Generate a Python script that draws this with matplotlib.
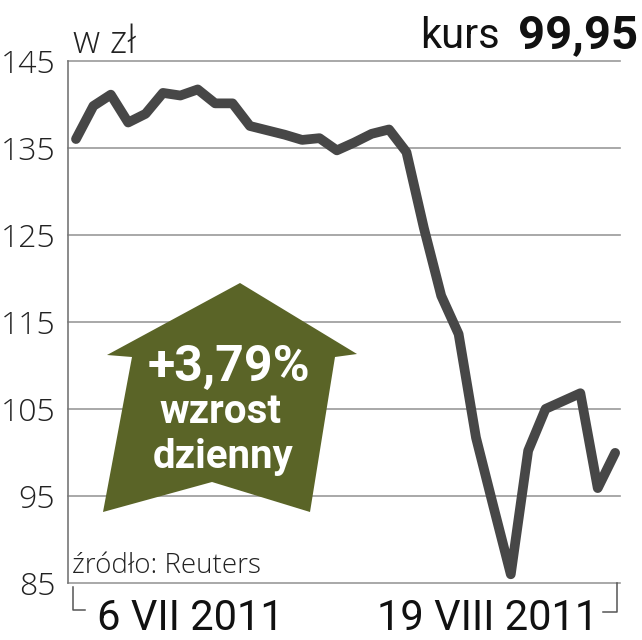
import matplotlib
matplotlib.use("Agg")
import matplotlib.pyplot as plt
from matplotlib.patches import Polygon
from matplotlib.lines import Line2D

# ---- data ----
values = [136.0, 139.8, 141.1, 137.9, 138.9, 141.3, 141.0, 141.7, 140.1, 140.1,
          137.5, 137.0, 136.5, 135.9, 136.1, 134.7, 135.6, 136.6, 137.1, 134.5,
          125.8, 118.0, 113.6, 101.7, 93.8, 86.0, 100.2, 105.0, 105.9, 106.8,
          95.9, 99.95]
yticks = [85, 95, 105, 115, 125, 135, 145]
start_label = "6 VII 2011"
end_label = "19 VIII 2011"
unit_label = "w zł"
last_label = "kurs"
last_value = "99,95"
change_label = "+3,79%"
change_text = ["wzrost", "dzienny"]
source = "źródło: Reuters"

W, H = 642, 640
fig = plt.figure(figsize=(W / 100, H / 100), dpi=100)
fig.patch.set_facecolor("white")

def fx(px):
    return px / W

def fy(py):
    return 1 - py / H

ax = fig.add_axes([fx(67.7), fy(583), fx(620) - fx(67.7), fy(60.7) - fy(583)])
ax.set_facecolor("none")

xs = list(range(len(values)))
ax.plot(xs, values, color="#474747", lw=7, solid_joinstyle="round",
        solid_capstyle="round", zorder=5)
ax.set_xlim(-0.477, 31.28)
ax.set_ylim(85, 145)

light = ["Open Sans", "DejaVu Sans"]
ax.set_yticks(yticks)
ax.set_yticklabels([str(v) for v in yticks], family=light,
                   fontweight="light", fontsize=23, color="#222222")
ax.tick_params(axis="y", length=0, pad=9)
ax.set_xticks([])
ax.yaxis.grid(True, color="#9a9a9a", lw=1.2)
for gl in ax.get_ygridlines():
    gl.set_clip_on(False)
ax.set_axisbelow(True)
for s in ["top", "right", "bottom"]:
    ax.spines[s].set_visible(False)
ax.spines["left"].set_color("#777777")
ax.spines["left"].set_linewidth(1.2)

# bottom bracket
lc = "#555555"
fig.add_artist(Line2D([fx(73), fx(73), fx(85)], [fy(587), fy(610), fy(610)],
                      color=lc, lw=1.1, transform=fig.transFigure))
fig.add_artist(Line2D([fx(617), fx(617), fx(603)], [fy(583), fy(612), fy(612)],
                      color=lc, lw=1.1, transform=fig.transFigure))

fam = ["Roboto", "DejaVu Sans"]
fig.text(fx(97), fy(630), start_label, family=fam, fontsize=30, color="#111111",
         ha="left", va="baseline")
fig.text(fx(598), fy(630), end_label, family=fam, fontsize=30, color="#111111",
         ha="right", va="baseline")

# headers
fig.text(fx(73), fy(53), unit_label, family=light,
         fontweight="light", fontsize=27, color="#222222", ha="left", va="baseline")
fig.text(fx(500), fy(48), last_label, family=fam, fontsize=30, color="#111111",
         ha="right", va="baseline")
fig.text(fx(638), fy(48), last_value, family=fam, fontweight="bold", fontsize=34,
         color="#111111", ha="right", va="baseline")

# source
fig.text(fx(72), fy(573), source, family=light,
         fontweight="light", fontsize=20, color="#222222", ha="left", va="baseline")

# arrow badge
arrow_pts = [(240, 283), (357, 354), (335, 357), (310, 512), (212, 482),
             (103, 512), (132, 357), (107, 355)]
poly = Polygon([(fx(x), fy(y)) for x, y in arrow_pts], closed=True,
               facecolor="#5a6427", edgecolor="none", transform=fig.transFigure,
               zorder=3)
fig.add_artist(poly)
fig.text(fx(229), fy(381), change_label, family=fam, fontweight="bold", fontsize=36,
         color="white", ha="center", va="baseline", zorder=4)
fig.text(fx(220), fy(423), change_text[0], family=fam, fontweight="bold", fontsize=29,
         color="white", ha="center", va="baseline", zorder=4)
fig.text(fx(223), fy(468), change_text[1], family=fam, fontweight="bold", fontsize=29,
         color="white", ha="center", va="baseline", zorder=4)

fig.savefig("out.png", dpi=100)
